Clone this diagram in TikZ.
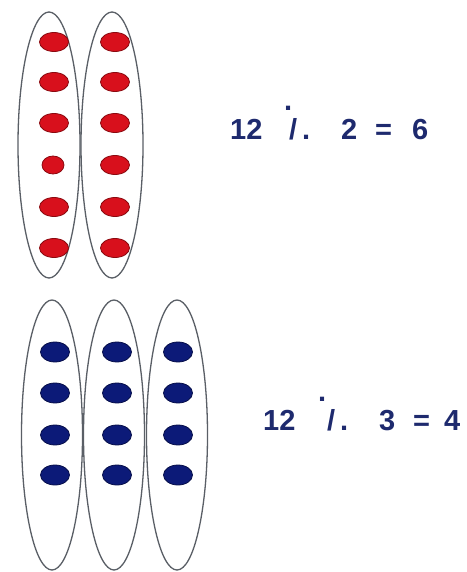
\documentclass[tikz,border=0pt]{standalone}
\usepackage{fontspec}
\setmainfont{Liberation Sans}
\usetikzlibrary{shapes.geometric}
\definecolor{ringgray}{HTML}{5A5F66}
\definecolor{dotred}{HTML}{D8101C}
\definecolor{dotredline}{HTML}{8A0A10}
\definecolor{dotblue}{HTML}{0C1A78}
\definecolor{dotblueline}{HTML}{070F4A}
\definecolor{eqblue}{HTML}{1E2A6E}
\tikzset{
  group/.style={draw=ringgray, line width=1.3pt, ellipse, inner sep=0pt, minimum width=62pt, minimum height=266pt},
  reddot/.style={ellipse, fill=dotred, draw=dotredline, line width=0.8pt, inner sep=0pt, minimum width=29pt, minimum height=19pt},
  bluedot/.style={ellipse, fill=dotblue, draw=dotblueline, line width=0.8pt, inner sep=0pt, minimum width=29pt, minimum height=20pt},
  eq/.style={anchor=base west, inner sep=0pt, text=eqblue, font=\fontsize{29}{31}\selectfont\bfseries}
}
\begin{document}
\begin{tikzpicture}[x=1pt,y=-1pt]
\useasboundingbox (0,0) rectangle (466,572);
\fill[white] (0,0) rectangle (466,572);
% top groups
\node[group] (r1) at (49,145) {};
\node[group] (r2) at (112,145) {};
\foreach \i/\y in {1/42,2/82,3/123,5/207,6/248}{
  \node[reddot] (ra\i) at (54,\y) {};
}
\node[reddot, minimum width=22pt, minimum height=18pt] (ra4) at (53,165) {};
\foreach \i/\y in {1/42,2/82,3/123,4/165,5/207,6/248}{
  \node[reddot] (rb\i) at (115,\y) {};
}
% bottom groups
\node[group, minimum width=61pt, minimum height=270pt] (b1) at (52,435) {};
\node[group, minimum width=61pt, minimum height=270pt] (b2) at (114,435) {};
\node[group, minimum width=61pt, minimum height=270pt] (b3) at (177,435) {};
\foreach \i/\y in {1/352,2/393,3/435,4/475}{
  \node[bluedot] (ba\i) at (55,\y) {};
  \node[bluedot] (bb\i) at (117,\y) {};
  \node[bluedot] (bc\i) at (178,\y) {};
}
% equation 1
\node[eq] (e1a) at (230,140) {12};
\node[eq] (e1d) at (284,111) {.};
\node[eq] (e1s) at (289,140) {/};
\node[eq] (e1p) at (302,140) {.};
\node[eq] (e1b) at (341,140) {2};
\node[eq] (e1e) at (375,140) {=};
\node[eq] (e1c) at (412,140) {6};
% equation 2
\node[eq] (e2a) at (263,430) {12};
\node[eq] (e2d) at (318,401) {.};
\node[eq] (e2s) at (327,430) {/};
\node[eq] (e2p) at (340,430) {.};
\node[eq] (e2b) at (379,430) {3};
\node[eq] (e2e) at (413,430) {=};
\node[eq] (e2c) at (444,430) {4};
\end{tikzpicture}
\end{document}
